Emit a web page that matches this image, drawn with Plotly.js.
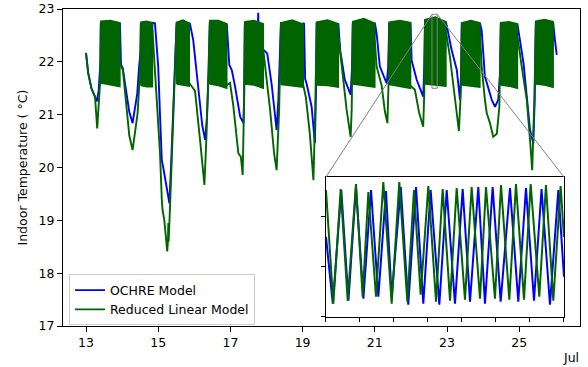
<!DOCTYPE html>
<html><head><meta charset="utf-8">
<script src="https://cdn.plot.ly/plotly-3.0.1.min.js"></script>
<style>body{margin:0;background:#fff;}</style>
</head><body><div id="chart" style="width:588px;height:367px;"></div>
<script>
// ---- Main chart: keypoints (day of July, °C) ----
const ochreT = [13.00,13.06,13.15,13.22,13.25,13.30,13.35,13.40,13.41,13.43,13.92,13.94,13.97,14.02,14.10,14.20,14.29,14.36,14.42,14.47,14.51,14.52,14.54,14.82,14.84,14.91,14.96,15.00,15.05,15.10,15.14,15.22,15.31,15.36,15.42,15.465,15.51,15.53,15.84,15.86,15.88,15.97,16.07,16.15,16.22,16.30,16.35,16.40,16.43,16.45,16.88,16.90,16.97,17.04,17.13,17.27,17.36,17.38,17.40,17.42,17.76,17.765,17.77,17.775,17.78,17.89,17.91,18.02,18.14,18.24,18.28,18.33,18.37,18.40,18.42,19.00,19.02,19.04,19.07,19.11,19.25,19.34,19.37,19.39,19.41,19.97,19.99,20.04,20.17,20.27,20.33,20.37,20.39,20.41,20.98,21.00,21.05,21.14,21.255,21.33,21.37,21.40,21.42,21.97,21.99,22.02,22.16,22.34,22.37,22.39,22.41,22.95,22.97,23.13,23.27,23.36,23.39,23.41,23.43,23.89,23.91,23.96,24.05,24.24,24.33,24.42,24.47,24.49,24.51,24.93,24.95,24.98,25.12,25.21,25.30,25.39,25.43,25.46,25.48,25.92,25.94,25.99,26.04];
const ochreV = [22.17,21.80,21.50,21.38,21.32,21.25,21.45,22.00,22.75,22.20,22.20,22.74,21.95,21.88,21.50,21.05,20.84,21.10,21.40,21.90,22.20,22.75,22.20,22.20,22.74,22.73,22.30,21.91,21.00,20.14,20.00,19.65,19.32,20.10,21.10,22.03,22.75,22.20,22.20,22.74,22.72,22.41,21.72,21.20,20.80,20.52,20.95,21.80,22.75,22.20,22.20,22.72,21.94,21.84,21.53,20.96,20.84,21.30,22.75,22.20,22.20,22.78,22.93,22.78,22.20,22.20,22.23,22.16,21.59,21.02,20.71,21.30,22.20,22.75,22.20,22.20,22.74,22.72,21.68,21.59,21.15,20.46,21.40,22.75,22.20,22.20,22.73,22.22,21.66,21.47,21.38,21.90,22.75,22.20,22.20,22.74,22.54,21.91,21.72,21.59,21.90,22.75,22.20,22.20,22.74,22.03,21.66,21.34,21.90,22.80,22.20,22.20,22.76,22.22,21.85,21.28,21.80,22.75,22.20,22.20,22.74,22.60,21.72,21.28,21.15,21.28,21.80,22.74,22.20,22.20,22.72,22.60,21.97,21.34,20.71,20.46,21.30,22.77,22.20,22.20,22.75,22.41,22.13];

const linT = [13.00,13.06,13.15,13.25,13.31,13.35,13.39,13.41,13.97,14.02,14.10,14.20,14.29,14.36,14.43,14.47,14.50,14.52,14.84,14.96,15.05,15.10,15.12,15.17,15.25,15.27,15.28,15.29,15.33,15.40,15.46,15.51,15.86,15.92,16.02,16.16,16.28,16.34,16.42,16.43,16.90,16.99,17.08,17.22,17.29,17.34,17.38,17.40,17.91,18.00,18.10,18.21,18.28,18.35,18.40,19.02,19.09,19.20,19.30,19.35,19.39,19.99,20.08,20.22,20.33,20.36,20.39,21.00,21.05,21.19,21.28,21.35,21.38,21.40,21.99,22.11,22.23,22.34,22.37,22.39,22.98,23.08,23.17,23.27,23.33,23.38,23.41,23.91,23.96,24.05,24.10,24.19,24.28,24.38,24.45,24.49,24.94,25.07,25.21,25.30,25.36,25.42,25.46,25.94];
const linV = [22.17,21.78,21.50,21.34,20.74,21.10,21.60,22.70,21.91,21.85,21.30,20.60,20.33,20.65,21.03,21.50,21.90,22.70,22.60,21.28,20.27,19.39,19.20,19.00,18.41,18.60,18.95,18.60,19.30,20.50,21.70,22.70,21.60,21.55,21.45,20.52,19.67,20.64,22.20,22.75,21.56,21.60,21.17,20.27,20.20,19.86,21.30,22.70,22.23,21.72,21.09,20.27,19.95,21.09,22.70,21.55,21.33,20.64,19.76,21.10,22.70,22.50,21.91,21.09,20.58,21.10,22.70,22.40,21.91,21.55,21.06,20.84,21.59,22.70,21.55,21.47,21.03,20.77,21.40,22.75,22.54,22.10,21.59,21.09,20.69,21.40,22.70,22.60,21.91,21.28,21.03,20.84,20.58,20.64,21.15,22.70,22.54,21.91,21.28,20.52,19.95,21.28,22.70,22.30];

// daytime cycling bands (envelope of the fast oscillation), Reduced Linear Model
const bandStart  = [13.41,14.52,15.51,16.43,17.40,18.40,19.39,20.39,21.40,22.39,23.41,24.49,25.46];
const bandEnd    = [13.94,14.84,15.86,16.90,17.91,19.02,19.99,21.00,21.99,22.97,23.91,24.95,25.94];
const bandTopA   = [22.77,22.75,22.75,22.78,22.76,22.74,22.75,22.76,22.75,22.80,22.74,22.74,22.77];
const bandTopM   = [22.78,22.77,22.79,22.78,22.78,22.79,22.79,22.82,22.78,22.85,22.78,22.76,22.80];
const bandTopB   = [22.74,22.74,22.73,22.72,22.72,22.71,22.72,22.73,22.74,22.76,22.74,22.72,22.76];
const bandBotA   = [21.60,21.55,21.58,21.58,21.58,21.57,21.56,21.58,21.57,21.58,21.56,21.56,21.58];
const bandBotM   = [21.56,21.53,21.56,21.55,21.56,21.55,21.55,21.55,21.54,21.56,21.54,21.54,21.56];
const bandBotB   = [21.53,21.53,21.54,21.50,21.50,21.52,21.52,21.52,21.50,21.54,21.52,21.50,21.52];

// ---- Inset: Jul 22, hours of day, peaks/troughs of the cycling ----
const insetDay = 22;
const insetHours = [14, 17.5];
const insetTemps = [21.5, 22.9];
const insetTicks = [14,14.5,15,15.5,16,16.5,17,17.5];
const insetTempTicks = [21.5,22.0,22.5];
const ochreInH = [14.0,14.10,14.225,14.33,14.441,14.55,14.662,14.77,14.882,14.966,15.10,15.21,15.324,15.431,15.539,15.667,15.775,15.897,16.01,16.118,16.24,16.338,16.451,16.569,16.706,16.828,16.941,17.059,17.17,17.294,17.417,17.5];
const ochreInV = [22.30,21.63,22.77,21.66,22.80,21.68,22.77,21.70,22.76,21.70,22.80,21.62,22.80,21.63,22.77,21.62,22.77,21.63,22.78,21.65,22.80,21.63,22.80,21.65,22.79,21.65,22.79,21.66,22.78,21.62,22.77,21.90];
const linInH = [14.0,14.108,14.216,14.319,14.441,14.539,14.623,14.735,14.843,14.966,15.078,15.196,15.294,15.392,15.505,15.618,15.716,15.824,15.922,16.044,16.142,16.265,16.353,16.485,16.574,16.696,16.794,16.912,17.010,17.137,17.235,17.343,17.451,17.5];
const linInV = [22.77,21.63,22.78,21.66,22.83,21.70,22.75,21.70,22.85,21.63,22.85,21.65,22.77,21.72,22.81,21.65,22.78,21.66,22.79,21.67,22.80,21.68,22.80,21.68,22.82,21.67,22.83,21.67,22.83,21.70,22.82,21.66,22.81,22.30];

const BLUE = '#0000ff', GREEN = '#006400';
const xRange = [12.363, 26.684], yRange = [17, 23];
const insetDomX = [0.5087, 0.969], insetDomY = [0.0293, 0.470];

const traces = [];
traces.push({x: ochreT, y: ochreV, type: 'scatter', mode: 'lines', name: 'OCHRE Model',
  line: {color: BLUE, width: 1.9}, xaxis: 'x', yaxis: 'y'});
traces.push({x: linT, y: linV, type: 'scatter', mode: 'lines', name: 'Reduced Linear Model',
  line: {color: GREEN, width: 1.9}, xaxis: 'x', yaxis: 'y'});
for (let i = 0; i < bandStart.length; i++) {
  const m = (bandStart[i] + bandEnd[i]) / 2;
  traces.push({x: [bandStart[i], bandStart[i], m, bandEnd[i], bandEnd[i], m, bandStart[i]],
    y: [bandBotA[i], bandTopA[i], bandTopM[i], bandTopB[i], bandBotB[i], bandBotM[i], bandBotA[i]],
    type: 'scatter', mode: 'lines', fill: 'toself', fillcolor: GREEN,
    line: {color: GREEN, width: 1.5}, showlegend: false, hoverinfo: 'skip', xaxis: 'x', yaxis: 'y'});
}
traces.push({x: ochreInH, y: ochreInV, type: 'scatter', mode: 'lines', showlegend: false,
  line: {color: BLUE, width: 2}, xaxis: 'x2', yaxis: 'y2'});
traces.push({x: linInH, y: linInV, type: 'scatter', mode: 'lines', showlegend: false,
  line: {color: GREEN, width: 2}, xaxis: 'x2', yaxis: 'y2'});

const r0 = insetDay + insetHours[0] / 24, r1 = insetDay + insetHours[1] / 24;
const px = t => (t - xRange[0]) / (xRange[1] - xRange[0]);
const py = v => (v - yRange[0]) / (yRange[1] - yRange[0]);

const F = 'DejaVu Sans, sans-serif';
const layout = {
  width: 588, height: 367,
  margin: {l: 63, r: 8, t: 9, b: 41},
  paper_bgcolor: '#fff', plot_bgcolor: '#fff',
  font: {family: F, size: 12.5, color: '#000'},
  showlegend: true,
  legend: {x: 0.0116, y: 0.1625, xanchor: 'left', yanchor: 'top',
    bgcolor: 'rgba(255,255,255,0.8)', bordercolor: '#cccccc', borderwidth: 1,
    font: {family: F, size: 12.5}, itemwidth: 30, tracegroupgap: 0},
  xaxis: {range: xRange, tickvals: [13,15,17,19,21,23,25], ticktext: ['13','15','17','19','21','23','25'],
    ticks: 'outside', ticklen: 5, tickcolor: '#000', showgrid: false, zeroline: false,
    showline: true, linecolor: '#000', linewidth: 1, mirror: true, domain: [0, 1], anchor: 'y'},
  yaxis: {range: yRange, tickvals: [17,18,19,20,21,22,23], ticks: 'outside', ticklen: 5, tickcolor: '#000',
    showgrid: false, zeroline: false, showline: true, linecolor: '#000', linewidth: 1, mirror: true,
    domain: [0, 1], anchor: 'x'},
  xaxis2: {range: insetHours, domain: insetDomX, anchor: 'y2', tickvals: insetTicks, showticklabels: false,
    ticks: 'outside', ticklen: 4, tickcolor: '#000', showgrid: false, zeroline: false,
    showline: true, linecolor: '#000', linewidth: 1, mirror: true},
  yaxis2: {range: insetTemps, domain: insetDomY, anchor: 'x2', tickvals: insetTempTicks, showticklabels: false,
    ticks: 'outside', ticklen: 4, tickcolor: '#000', showgrid: false, zeroline: false,
    showline: true, linecolor: '#000', linewidth: 1, mirror: true},
  shapes: [
    {type: 'rect', xref: 'x', yref: 'y', x0: r0, x1: r1, y0: insetTemps[0], y1: insetTemps[1],
      line: {color: '#808080', width: 1}, fillcolor: 'rgba(0,0,0,0)', layer: 'above'},
    {type: 'line', xref: 'paper', yref: 'paper', x0: px(r0), y0: py(insetTemps[1]), x1: insetDomX[0], y1: insetDomY[1],
      line: {color: '#808080', width: 1}, layer: 'above'},
    {type: 'line', xref: 'paper', yref: 'paper', x0: px(r1), y0: py(insetTemps[1]), x1: insetDomX[1], y1: insetDomY[1],
      line: {color: '#808080', width: 1}, layer: 'above'}
  ],
  annotations: [
    {text: 'Indoor Temperature ( °C)', xref: 'paper', yref: 'paper', x: -0.0774, y: 0.5,
      xanchor: 'center', yanchor: 'middle', textangle: -90, showarrow: false, font: {family: F, size: 12.5}},
    {text: 'Jul', xref: 'paper', yref: 'paper', x: 0.9826, y: -0.0994, xanchor: 'center', yanchor: 'middle',
      showarrow: false, font: {family: F, size: 12.5}}
  ]
};
Plotly.newPlot('chart', traces, layout, {staticPlot: true, displayModeBar: false});
</script></body></html>
